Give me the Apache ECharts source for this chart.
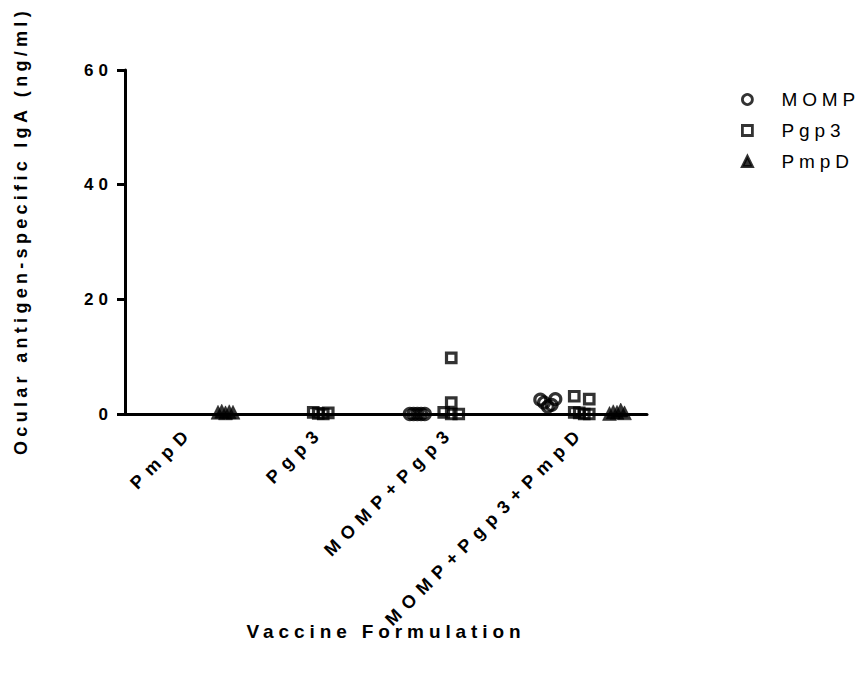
<!DOCTYPE html>
<html>
<head>
<meta charset="utf-8">
<script src="https://cdn.jsdelivr.net/npm/echarts@6/dist/echarts.min.js"></script>
<style>
  html, body { margin: 0; padding: 0; background: #fff; }
  #chart { width: 865px; height: 674px; }
  /* Prism-style wide tracking on every label */
  #chart text[style*="17px"] { letter-spacing: 5px; }
  #chart text[style*="18px"] { letter-spacing: 7.2px; }
  #chart text[style*="Helvetica"] { letter-spacing: 4.3px; }
  #chart text[style*="19px"] { letter-spacing: 4.9px; }
</style>
</head>
<body>
<div id="chart"></div>
<script>
// Vaccine formulations on the x axis
const categories = ['PmpD', 'Pgp3', 'MOMP+Pgp3', 'MOMP+Pgp3+PmpD'];
// Antigens measured
const antigens = ['MOMP', 'Pgp3', 'PmpD'];
// Ocular IgA (ng/ml) per mouse, one list per formulation; null = antigen not in that vaccine
const mompIgA = [null, null, [0, 0, 0, 0, 0], [2.5, 2.0, 1.3, 1.6, 2.6]];
const pgp3IgA = [null, [0.3, 0.1, 0, 0.2], [9.8, 2.0, 0.3, 0, 0], [3.1, 2.6, 0.3, 0.2, 0, 0]];
const pmpdIgA = [[0.3, 0.5, 0.2, 0.4, 0.3], null, null, [0.1, 0.4, 0.3, 0.7, 0.2]];
// y axis ticks
const yMin = 0, yMax = 60, yStep = 20;

const GRID = { left: 125, top: 70, width: 522, height: 344 };
const pxPerUnit = GRID.height / (yMax - yMin);
const pxPerCat = GRID.width / categories.length;

// Column scatter: points of similar value share a row and are spread evenly across it (pixels)
function rowSpread(values, rowTol, span) {
  const order = values.map((v, i) => i).sort((a, b) => values[b] - values[a]);
  const rows = [];
  order.forEach(i => {
    const row = rows[rows.length - 1];
    if (row && values[row[0]] - values[i] <= rowTol) row.push(i);
    else rows.push([i]);
  });
  const dx = new Array(values.length).fill(0);
  rows.forEach(row => {
    row.sort((a, b) => a - b);
    const n = row.length;
    row.forEach((i, k) => { dx[i] = n > 1 ? -span / 2 + span * k / (n - 1) : 0; });
  });
  return dx;
}

function buildPoints(groups, catOffset) {
  const pts = [];
  groups.forEach((vals, ci) => {
    if (!vals) return;
    const dx = rowSpread(vals, 1.4, 15);
    vals.forEach((v, j) => pts.push([ci + catOffset + dx[j] / pxPerCat, v]));
  });
  return pts;
}

const openStyle = { color: 'rgba(0,0,0,0)', borderColor: '#000', borderWidth: 3.2 };
const seriesDefs = [
  { name: antigens[0], groups: mompIgA, offset: -0.26, symbol: 'circle', size: 11, style: openStyle },
  { name: antigens[1], groups: pgp3IgA, offset: 0, symbol: 'rect', size: 9.5, style: openStyle },
  { name: antigens[2], groups: pmpdIgA, offset: 0.27, symbol: 'triangle', size: 14,
    style: { color: '#000', borderColor: '#000', borderWidth: 0.5 } }
];

const FONT = "'Liberation Sans', Arial, sans-serif";
const FONT_Y = "'Liberation Sans', Helvetica, sans-serif";

const option = {
  backgroundColor: '#fff',
  animation: false,
  grid: Object.assign({ containLabel: false, outerBoundsMode: 'none' }, GRID),
  legend: {
    orient: 'vertical',
    left: 736,
    top: 85,
    itemWidth: 10,
    itemHeight: 10,
    itemGap: 12,
    data: antigens,
    textStyle: { fontFamily: FONT, fontSize: 19, color: '#000', padding: [0, 0, 0, 24] },
    itemStyle: { borderWidth: 2.8 }
  },
  xAxis: [
    {
      type: 'category',
      data: categories,
      boundaryGap: true,
      name: 'Vaccine Formulation',
      nameLocation: 'middle',
      nameGap: 208,
      nameTextStyle: { fontFamily: FONT, fontSize: 19, fontWeight: 'bold', color: '#000' },
      axisLine: { onZero: false, lineStyle: { color: '#000', width: 3 } },
      axisTick: { alignWithLabel: true, length: 8, lineStyle: { color: '#000', width: 3 } },
      axisLabel: { rotate: 45, margin: 15, fontFamily: FONT, fontSize: 18, fontWeight: 'bold', color: '#000' },
      splitLine: { show: false }
    },
    { type: 'value', min: -0.5, max: 3.5, show: false }
  ],
  yAxis: {
    type: 'value',
    min: yMin,
    max: yMax,
    interval: yStep,
    name: 'Ocular antigen-specific IgA (ng/ml)',
    nameLocation: 'middle',
    nameGap: 95,
    nameTextStyle: { fontFamily: FONT_Y, fontSize: 18, fontWeight: 'bold', color: '#000', padding: [0, 0, 0, 22] },
    axisLine: { show: true, onZero: false, lineStyle: { color: '#000', width: 3 } },
    axisTick: { show: true, length: 8, lineStyle: { color: '#000', width: 3 } },
    axisLabel: { margin: 12, fontFamily: FONT, fontSize: 17, fontWeight: 'bold', color: '#000' },
    splitLine: { show: false }
  },
  series: seriesDefs.map(d => ({
    name: d.name,
    type: 'scatter',
    xAxisIndex: 1,
    symbol: d.symbol,
    symbolSize: d.size,
    itemStyle: d.style,
    emphasis: { disabled: true },
    data: buildPoints(d.groups, d.offset)
  }))
};

const chart = echarts.init(document.getElementById('chart'), null, { renderer: 'svg' });
chart.setOption(option);
</script>
</body>
</html>
